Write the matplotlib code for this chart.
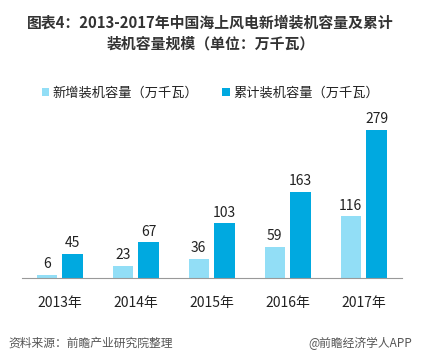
import matplotlib.pyplot as plt
import numpy as np

plt.rcParams['font.family'] = ['Noto Sans CJK SC', 'DejaVu Sans']

# datos
years = ['2013年', '2014年', '2015年', '2016年', '2017年']
nuevo = [6, 23, 36, 59, 116]
acumulado = [45, 67, 103, 163, 279]
label_nuevo = '新增装机容量（万千瓦）'
label_acum = '累计装机容量（万千瓦）'

c_light = '#92DEF6'
c_dark = '#00A9E0'
txt = '#222222'

fig = plt.figure(figsize=(4.21, 3.63), dpi=100)
ax = fig.add_axes([22/421, 85/363, 380/421, 168/363])

x = np.arange(len(years))
w = 0.265
ax.bar(x - 0.175, nuevo, w, color=c_light, label=label_nuevo)
ax.bar(x + 0.165, acumulado, w, color=c_dark, label=label_acum)

for i in range(len(years)):
    ax.text(x[i] - 0.175, nuevo[i] + 7, str(nuevo[i]), ha='center', va='bottom',
            fontsize=10, color=txt)
    ax.text(x[i] + 0.165, acumulado[i] + 7, str(acumulado[i]), ha='center', va='bottom',
            fontsize=10, color=txt)

ax.set_xlim(-0.5, 4.5)
ax.set_ylim(0, 316.7)
ax.set_xticks(x)
ax.set_xticklabels(years, fontsize=10, color=txt)
ax.tick_params(axis='x', length=0, pad=13)
ax.set_yticks([])
for s in ['top', 'right', 'left']:
    ax.spines[s].set_visible(False)
ax.spines['bottom'].set_color('#999999')
ax.spines['bottom'].set_linewidth(0.8)

fig.legend(loc='center', bbox_to_anchor=(0.5, 1 - 93/363), ncol=2, frameon=False,
           fontsize=9.5, handlelength=0.55, handleheight=0.55, handletextpad=0.3,
           columnspacing=1.8, labelcolor=txt)

fig.text(0.5, 1 - 23/363, '图表4：2013-2017年中国海上风电新增装机容量及累计',
         ha='center', va='center', fontsize=10.7, fontweight='bold', color='#333333')
fig.text(0.5, 1 - 44/363, '装机容量规模（单位：万千瓦）',
         ha='center', va='center', fontsize=10.7, fontweight='bold', color='#333333')

fig.text(8/421, 1 - 343/363, '资料来源：前瞻产业研究院整理', ha='left', va='center',
         fontsize=8.5, style='italic', color='#555555')
fig.text(412/421, 1 - 343/363, '@前瞻经济学人APP', ha='right', va='center',
         fontsize=8.5, color='#555555')

fig.savefig('out.png', dpi=100)
